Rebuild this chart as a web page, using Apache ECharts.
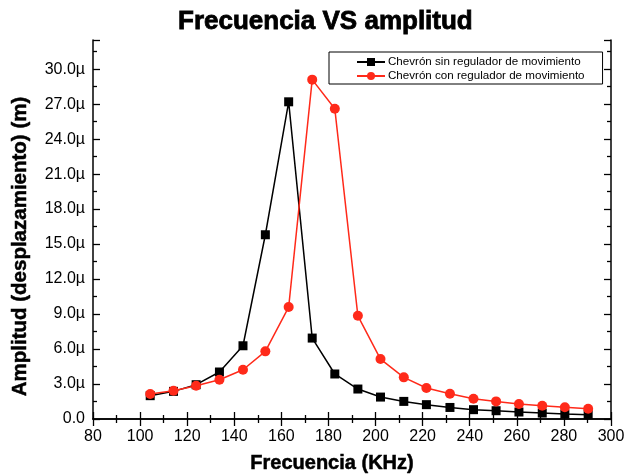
<!DOCTYPE html>
<html>
<head>
<meta charset="utf-8">
<script src="https://cdn.jsdelivr.net/npm/echarts@6/dist/echarts.min.js"></script>
<style>html,body{margin:0;padding:0;background:#fff}#c{width:625px;height:474px}</style>
</head>
<body>
<div id="c"></div>
<script>
const titleText = 'Frecuencia VS amplitud';
const xName = 'Frecuencia (KHz)';
const yName = 'Amplitud (desplazamiento) (m)';
const seriesNames = ['Chevrón sin regulador de movimiento', 'Chevrón con regulador de movimiento'];
const freq = [104.3, 114.2, 123.8, 133.7, 143.7, 153.2, 163.1, 173.1, 182.7, 192.5, 202.1, 212.0, 221.6, 231.6, 241.6, 251.2, 260.9, 270.8, 280.4, 290.3];
const sinReg = [2.0, 2.37, 2.94, 4.03, 6.28, 15.8, 27.2, 6.94, 3.86, 2.57, 1.88, 1.51, 1.23, 0.99, 0.80, 0.71, 0.60, 0.51, 0.43, 0.37];
const conReg = [2.14, 2.42, 2.85, 3.37, 4.22, 5.8, 9.6, 29.1, 26.6, 8.85, 5.14, 3.57, 2.66, 2.17, 1.74, 1.51, 1.28, 1.14, 1.0, 0.88];

const pair = (xs, ys) => xs.map((x, i) => [x, ys[i]]);
const fnt = '"Liberation Sans", Arial, sans-serif';
const axisCommon = {
  axisLine: {show: true, lineStyle: {color: '#000', width: 1.5}},
  axisTick: {show: true, inside: true, length: 7, lineStyle: {color: '#000', width: 1.3}},
  minorTick: {show: true, splitNumber: 2, length: 4, lineStyle: {color: '#000', width: 1.3}},
  splitLine: {show: false}
};
const chart = echarts.init(document.getElementById('c'), null, {renderer: 'canvas'});
chart.setOption({
  backgroundColor: '#fff',
  animation: false,
  title: {
    text: titleText, left: 173, top: 4,
    textStyle: {fontFamily: fnt, fontWeight: 'bold', fontSize: 26, color: '#000',
      textBorderColor: '#000', textBorderWidth: 0.8}
  },
  legend: {
    orient: 'vertical', left: 329, top: 52,
    padding: [4, 18, 2, 27], itemGap: 2,
    itemWidth: 28, itemHeight: 10,
    borderColor: '#000', borderWidth: 1, backgroundColor: '#fff',
    textStyle: {fontFamily: fnt, fontSize: 11.6, color: '#000', lineHeight: 12, padding: [0, 0, 0, -2]},
    data: seriesNames
  },
  grid: {left: 93, right: 14, top: 40, bottom: 55, containLabel: false, outerBoundsMode: 'none'},
  xAxis: [
    Object.assign({
      type: 'value', min: 80, max: 300, interval: 20, position: 'bottom',
      name: xName, nameLocation: 'middle', nameGap: 34,
      nameTextStyle: {fontFamily: fnt, fontWeight: 'bold', fontSize: 20, color: '#000', padding: [0, 40, 0, 0],
        textBorderColor: '#000', textBorderWidth: 0.5},
      axisLabel: {fontFamily: fnt, fontSize: 16, color: '#000', margin: 10}
    }, axisCommon),
    Object.assign({
      type: 'value', min: 80, max: 300, interval: 20, position: 'top',
      axisLabel: {show: false}
    }, axisCommon)
  ],
  yAxis: [
    Object.assign({
      type: 'value', min: 0, max: 32.5, interval: 3, position: 'left',
      name: yName, nameLocation: 'middle', nameGap: 62,
      nameTextStyle: {fontFamily: fnt, fontWeight: 'bold', fontSize: 20.5, color: '#000', padding: [0, 34, 0, 0],
        textBorderColor: '#000', textBorderWidth: 0.5},
      axisLabel: {fontFamily: fnt, fontSize: 16, color: '#000', margin: 8, showMaxLabel: false,
        formatter: v => v === 0 ? '0.0' : v.toFixed(1) + 'µ'}
    }, axisCommon),
    Object.assign({
      type: 'value', min: 0, max: 32.5, interval: 3, position: 'right',
      axisLabel: {show: false}
    }, axisCommon)
  ],
  series: [
    {
      name: seriesNames[0], type: 'line', data: pair(freq, sinReg),
      symbol: 'rect', symbolSize: 9,
      itemStyle: {color: '#000'}, lineStyle: {color: '#000', width: 1.5}
    },
    {
      name: seriesNames[1], type: 'line', data: pair(freq, conReg),
      symbol: 'circle', symbolSize: 10,
      itemStyle: {color: '#ff2a1a'}, lineStyle: {color: '#ff2a1a', width: 1.5}
    }
  ]
});
</script>
</body>
</html>
